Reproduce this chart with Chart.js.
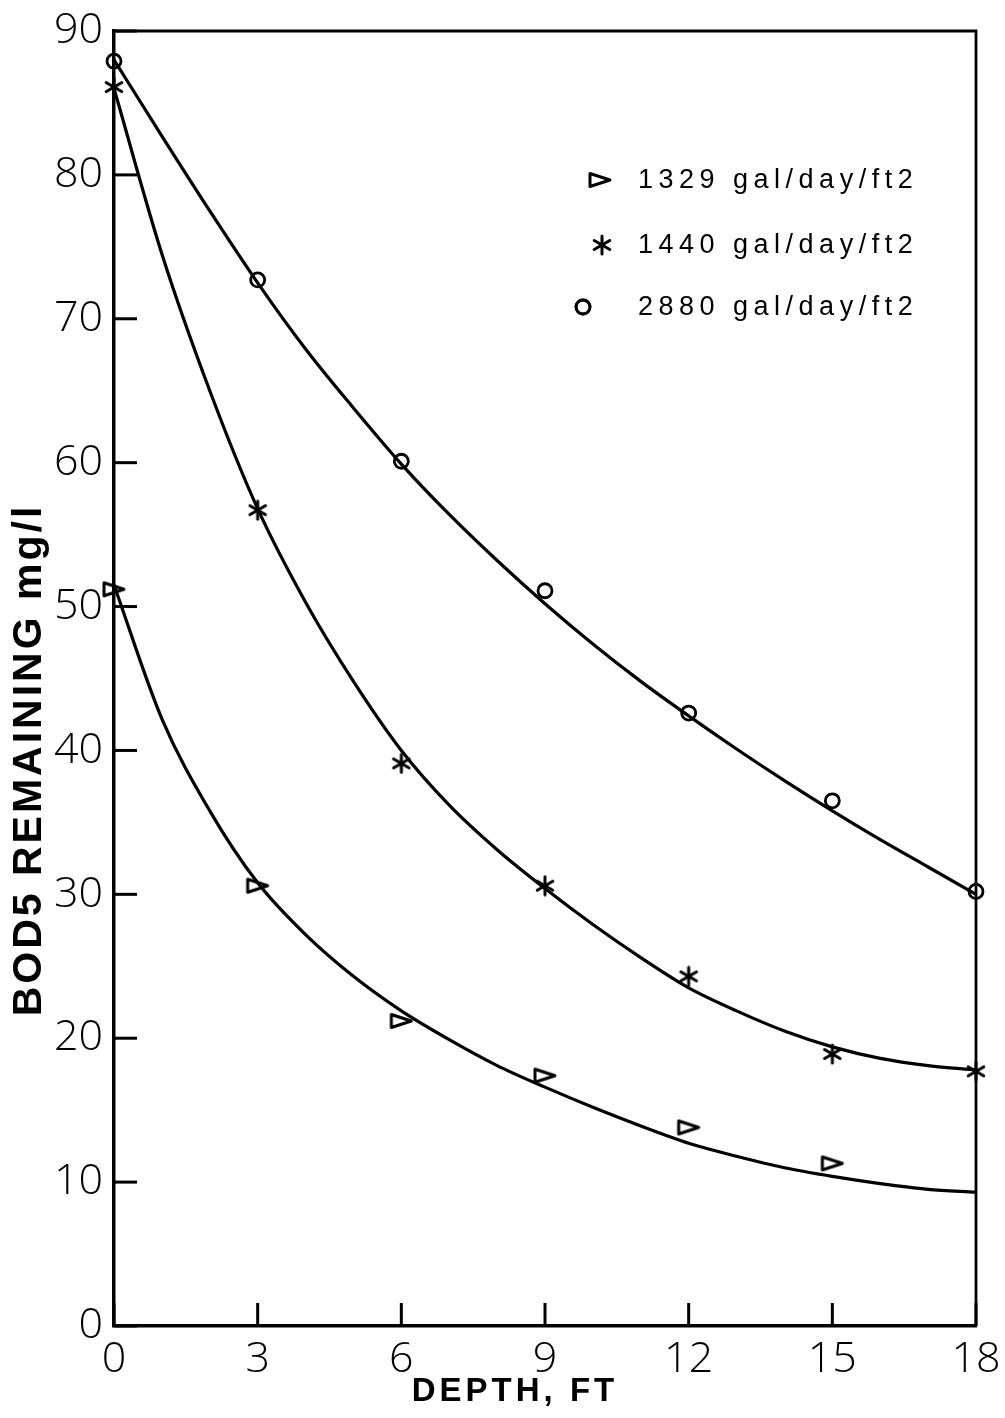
<!DOCTYPE html>
<html>
<head>
<meta charset="utf-8">
<script src="https://cdn.jsdelivr.net/npm/chart.js@4.4.1/dist/chart.umd.min.js"></script>
<style>
  html, body { margin: 0; padding: 0; background: #fff; }
  #wrap { width: 1005px; height: 1418px; }
</style>
</head>
<body>
<div id="wrap"><canvas id="myChart" width="1005" height="1418"></canvas></div>
<script>
// axis ticks
const depthTicks = [0, 3, 6, 9, 12, 15, 18];
const bodTicks = [0, 10, 20, 30, 40, 50, 60, 70, 80, 90];

const seriesLabels = ["1329 gal/day/ft2", "1440 gal/day/ft2", "2880 gal/day/ft2"];

// measured points
const depth1329 = [0, 3, 6, 9, 12, 15];
const bod1329 = [51.2, 30.6, 21.2, 17.4, 13.8, 11.3];
const depth1440 = [0, 3, 6, 9, 12, 15, 18];
const bod1440 = [86.1, 56.7, 39.1, 30.6, 24.3, 18.9, 17.7];
const depth2880 = [0, 3, 6, 9, 12, 15, 18];
const bod2880 = [87.9, 72.7, 60.1, 51.1, 42.6, 36.5, 30.2];

// fitted curves, every foot
const curveDepth = [0, 1, 2, 3, 4, 5, 6, 7, 8, 9, 10, 11, 12, 13, 14, 15, 16, 17, 18];
const curve1329 = [51.5, 42.2, 35.8, 30.8, 27.2, 24.3, 21.9, 19.9, 18.1, 16.6, 15.2, 13.9, 12.7, 11.8, 11.0, 10.4, 9.9, 9.5, 9.3];
const curve1440 = [86, 74.5, 65, 56.8, 50.3, 44.8, 40.0, 36.2, 33.1, 30.4, 27.9, 25.6, 23.5, 21.9, 20.5, 19.4, 18.6, 18.1, 17.8];
const curve2880 = [88, 82.7, 77.5, 72.5, 67.9, 63.8, 59.9, 56.4, 53.2, 50.2, 47.4, 44.8, 42.4, 40.1, 37.9, 35.8, 33.8, 31.9, 30.0];

const toXY = (xs, ys) => xs.map((x, i) => ({ x: x, y: ys[i] }));

// hand-drawn looking markers
function makeTriangle() {
    const c = document.createElement("canvas");
    c.width = 26; c.height = 18;
    const g = c.getContext("2d");
    g.strokeStyle = "#000";
    g.lineWidth = 3;
    g.lineJoin = "round";
    g.beginPath();
    g.moveTo(3, 2.5);
    g.lineTo(23, 9);
    g.lineTo(3, 15.5);
    g.closePath();
    g.stroke();
    return c;
}

function makeAsterisk() {
    const c = document.createElement("canvas");
    c.width = 22; c.height = 22;
    const g = c.getContext("2d");
    g.strokeStyle = "#000";
    g.lineWidth = 3;
    g.lineCap = "round";
    [90, 30, 150].forEach(a => {
        const r = a * Math.PI / 180;
        g.beginPath();
        g.moveTo(11 - Math.cos(r) * 9, 11 - Math.sin(r) * 9);
        g.lineTo(11 + Math.cos(r) * 9, 11 + Math.sin(r) * 9);
        g.stroke();
    });
    return c;
}

const triangleImg = makeTriangle();
const asteriskImg = makeAsterisk();

const markerStyles = [
    { pointStyle: triangleImg, radius: 9, borderWidth: 0 },
    { pointStyle: asteriskImg, radius: 9, borderWidth: 0 },
    { pointStyle: "circle", radius: 7, borderWidth: 2.8 }
];

function curveSet(data) {
    return {
        type: "line",
        data: data,
        borderColor: "#000",
        borderWidth: 3.2,
        pointRadius: 0,
        fill: false,
        cubicInterpolationMode: "monotone",
        clip: false
    };
}

function pointSet(i, data) {
    return {
        type: "scatter",
        label: seriesLabels[i],
        data: data,
        pointStyle: markerStyles[i].pointStyle,
        pointRadius: markerStyles[i].radius,
        pointBorderWidth: markerStyles[i].borderWidth,
        borderColor: "#000",
        backgroundColor: "rgba(0,0,0,0)",
        showLine: false,
        clip: false
    };
}

const framePlugin = {
    id: "frame",
    afterDraw(chart) {
        const { ctx, chartArea: a, scales } = chart;
        ctx.save();
        ctx.strokeStyle = "#000";
        ctx.lineWidth = 2.8;
        ctx.beginPath();
        ctx.moveTo(a.left, a.top);
        ctx.lineTo(a.right, a.top);
        ctx.lineTo(a.right, a.bottom);
        ctx.stroke();

        // inward tick marks
        ctx.lineWidth = 3;
        depthTicks.forEach(v => {
            const px = scales.x.getPixelForValue(v);
            ctx.beginPath();
            ctx.moveTo(px, a.bottom);
            ctx.lineTo(px, a.bottom - 23);
            ctx.stroke();
        });
        bodTicks.forEach(v => {
            const py = scales.y.getPixelForValue(v);
            ctx.beginPath();
            ctx.moveTo(a.left, py);
            ctx.lineTo(a.left + 23, py);
            ctx.stroke();
        });

        // axis titles
        ctx.fillStyle = "#000";
        ctx.textAlign = "center";
        ctx.textBaseline = "middle";
        ctx.font = "bold 33px 'Liberation Sans', Arial, sans-serif";
        ctx.letterSpacing = "4px";
        ctx.fillText("DEPTH, FT", 515, 1392);

        ctx.save();
        ctx.translate(30, 760);
        ctx.rotate(-Math.PI / 2);
        ctx.font = "bold 41px 'Liberation Sans', Arial, sans-serif";
        ctx.letterSpacing = "3px";
        ctx.fillText("BOD5 REMAINING mg/l", 0, 0);
        ctx.restore();

        // legend
        const rowsY = [180, 245, 307];
        const markX = [600, 602, 583];
        ctx.font = "27px 'Liberation Sans', Arial, sans-serif";
        ctx.letterSpacing = "5.5px";
        ctx.textAlign = "left";
        seriesLabels.forEach((lab, i) => {
            const m = markerStyles[i];
            ctx.strokeStyle = "#000";
            ctx.lineWidth = m.borderWidth || 1;
            ctx.fillStyle = "rgba(0,0,0,0)";
            Chart.helpers.drawPoint(ctx, {
                pointStyle: m.pointStyle,
                radius: m.radius,
                borderWidth: m.borderWidth,
                rotation: 0
            }, markX[i], rowsY[i]);
            if (m.borderWidth) ctx.stroke();
            ctx.fillStyle = "#000";
            ctx.fillText(lab, 638, rowsY[i] + 1);
        });
        ctx.restore();
    }
};

const tickFont = { family: "'Open Sans', 'Liberation Sans', sans-serif", size: 43, weight: "300" };

new Chart(document.getElementById("myChart").getContext("2d"), {
    data: {
        datasets: [
            curveSet(toXY(curveDepth, curve1329)),
            curveSet(toXY(curveDepth, curve1440)),
            curveSet(toXY(curveDepth, curve2880)),
            pointSet(0, toXY(depth1329, bod1329)),
            pointSet(1, toXY(depth1440, bod1440)),
            pointSet(2, toXY(depth2880, bod2880))
        ]
    },
    options: {
        responsive: false,
        animation: false,
        layout: { padding: { top: 31, right: 29, left: 0, bottom: 0 } },
        plugins: {
            legend: { display: false },
            tooltip: { enabled: false }
        },
        scales: {
            x: {
                type: "linear",
                min: 0,
                max: 18,
                afterFit: s => { s.height = 92; },
                afterBuildTicks: s => { s.ticks = depthTicks.map(v => ({ value: v })); },
                grid: { display: false },
                border: { display: true, color: "#000", width: 3.5 },
                ticks: { color: "#000", font: tickFont, padding: 0, maxRotation: 0 }
            },
            y: {
                type: "linear",
                min: 0,
                max: 90,
                afterFit: s => { s.width = 114; },
                afterBuildTicks: s => { s.ticks = bodTicks.map(v => ({ value: v })); },
                grid: { display: false },
                border: { display: true, color: "#000", width: 3.5 },
                ticks: { color: "#000", font: tickFont, padding: 3 }
            }
        }
    },
    plugins: [framePlugin]
});
</script>
</body>
</html>
